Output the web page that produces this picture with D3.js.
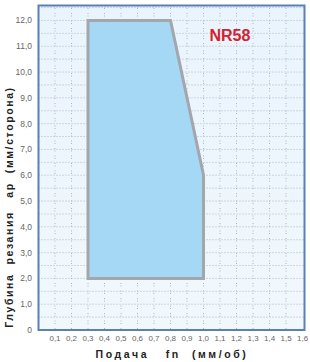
<!DOCTYPE html>
<html lang="ru">
<head>
  <meta charset="UTF-8">
  <title>NR58</title>
  <script src="https://cdnjs.cloudflare.com/ajax/libs/d3/7.6.1/d3.min.js"></script>
  <style>
    body { margin: 0; background: #fff; }
    svg { display: block; font-family: "Liberation Sans", Arial, sans-serif; }
    .tick-label { fill: #666; font-size: 8.5px; }
    .title { fill: #222; font-weight: bold; font-size: 10.5px; white-space: pre; }
  </style>
</head>
<body>
<div id="wrapper"></div>
<script>
// feed (mm/rev) vs depth of cut (mm/side)
const xTicks = [0.1, 0.2, 0.3, 0.4, 0.5, 0.6, 0.7, 0.8, 0.9, 1.0, 1.1, 1.2, 1.3, 1.4, 1.5, 1.6];
const yTicks = [0, 1, 2, 3, 4, 5, 6, 7, 8, 9, 10, 11, 12];
const areaFeed  = [0.3, 0.3, 0.8, 1.0, 1.0];
const areaDepth = [2.0, 12.0, 12.0, 6.0, 2.0];
const gradeName = "NR58";

const fmt = v => v === 0 ? "0" : v.toFixed(1).replace(".", ",");

const width = 310, height = 362;
const plot = { left: 38.5, right: 304.5, top: 5.5, bottom: 330 };

const svg = d3.select("#wrapper").append("svg")
  .attr("width", width)
  .attr("height", height);

const x = d3.scaleLinear().domain([0, 1.612]).range([plot.left, plot.right]);
const y = d3.scaleLinear().domain([0, 12.58]).range([plot.bottom, plot.top]);

const defs = svg.append("defs");
const grad = defs.append("linearGradient").attr("id", "bg")
  .attr("x1", 0).attr("y1", 0).attr("x2", 0).attr("y2", 1);
grad.append("stop").attr("offset", "0%").attr("stop-color", "#eaf4fc");
grad.append("stop").attr("offset", "100%").attr("stop-color", "#f1f8fd");

svg.append("rect")
  .attr("x", plot.left).attr("y", plot.top)
  .attr("width", plot.right - plot.left).attr("height", plot.bottom - plot.top)
  .attr("fill", "url(#bg)");

// grid: horizontal every 0.5, vertical every 0.1
const hLines = d3.range(0.5, 12.6, 0.5);
svg.append("g").selectAll("line")
  .data(hLines).enter().append("line")
  .attr("x1", plot.left).attr("x2", plot.right)
  .attr("y1", d => y(d)).attr("y2", d => y(d))
  .attr("stroke", "#9aa6b8")
  .attr("stroke-width", 0.8)
  .attr("stroke-dasharray", "1,2");

svg.append("g").selectAll("line")
  .data(xTicks.filter(d => d < 1.6)).enter().append("line")
  .attr("x1", d => x(d)).attr("x2", d => x(d))
  .attr("y1", plot.top).attr("y2", plot.bottom)
  .attr("stroke", "#9aa6b8")
  .attr("stroke-width", 0.8)
  .attr("stroke-dasharray", "1,1.5,1,4");

// operating area
const pts = areaFeed.map((f, i) => [x(f), y(areaDepth[i])]);
svg.append("path")
  .attr("d", d3.line()(pts) + "Z")
  .attr("fill", "#a4d8f5")
  .attr("stroke", "#a3a7ab")
  .attr("stroke-width", 3)
  .attr("stroke-linejoin", "miter");

// frame
svg.append("rect")
  .attr("x", plot.left).attr("y", plot.top)
  .attr("width", plot.right - plot.left).attr("height", plot.bottom - plot.top)
  .attr("fill", "none")
  .attr("stroke", "#5b80b6")
  .attr("stroke-width", 2);

// tick labels
svg.append("g").selectAll("text")
  .data(yTicks).enter().append("text")
  .attr("class", "tick-label")
  .attr("x", 32)
  .attr("y", d => y(d) + 3)
  .attr("text-anchor", "end")
  .text(fmt);

svg.append("g").selectAll("text")
  .data(xTicks).enter().append("text")
  .attr("class", "tick-label")
  .attr("x", d => x(d))
  .attr("y", 341)
  .attr("text-anchor", "middle")
  .style("font-size", "8px")
  .text(fmt);

// axis titles
svg.append("text")
  .attr("class", "title")
  .attr("transform", "translate(13,207) rotate(-90)")
  .attr("text-anchor", "middle")
  .style("letter-spacing", "1.6px")
  .text("Глубина  резания   ар  (мм/сторона)");

svg.append("text")
  .attr("class", "title")
  .attr("x", 172)
  .attr("y", 358)
  .attr("text-anchor", "middle")
  .style("letter-spacing", "2.6px")
  .text("Подача   fn  (мм/об)");

svg.append("text")
  .attr("x", x(1.16))
  .attr("y", y(11.2))
  .attr("text-anchor", "middle")
  .attr("fill", "#d42230")
  .style("font-weight", "bold")
  .style("font-size", "16px")
  .text(gradeName);
</script>
</body>
</html>
